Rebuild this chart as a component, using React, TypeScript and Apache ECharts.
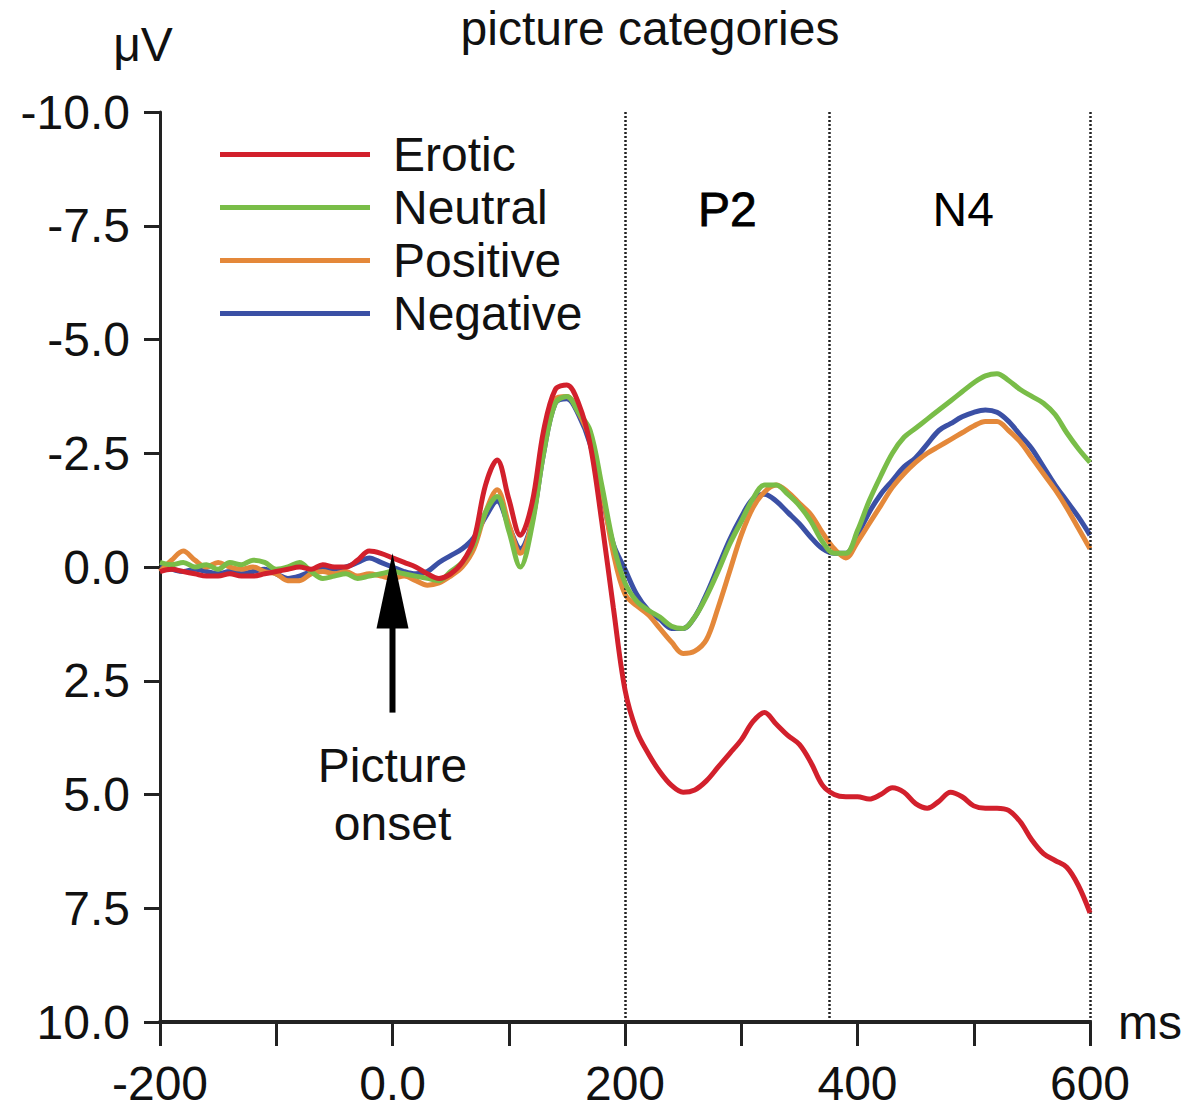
import React, { useEffect, useRef } from "react";
import * as echarts from "echarts";

const FONT = "'Liberation Sans', Arial, sans-serif";

const times = [
  -200, -190, -180, -170, -160, -150, -140, -130, -120, -110,
  -100, -90, -80, -70, -60, -50, -40, -30, -20, -10,
  0, 10, 20, 30, 40, 50, 60, 70, 80, 90,
  100, 110, 120, 130, 140, 150, 160, 170, 180, 190,
  200, 210, 220, 230, 240, 250, 260, 270, 280, 290,
  300, 310, 320, 330, 340, 350, 360, 370, 380, 390,
  400, 410, 420, 430, 440, 450, 460, 470, 480, 490,
  500, 510, 520, 530, 540, 550, 560, 570, 580, 590,
  600,
];

const erotic = [
  0.1, 0.05, 0.1, 0.15, 0.2, 0.2, 0.15, 0.2, 0.2, 0.15,
  0.1, 0.05, 0.0, 0.05, -0.05, 0.0, 0.0, -0.15, -0.35, -0.3,
  -0.2, -0.1, 0.0, 0.15, 0.25, 0.15, -0.1, -0.6, -1.8, -2.35,
  -1.5, -0.7, -1.4, -3.0, -3.9, -4.0, -3.6, -2.7, -1.0, 0.9,
  2.7, 3.6, 4.1, 4.5, 4.8, 4.95, 4.9, 4.7, 4.4, 4.1,
  3.8, 3.4, 3.2, 3.45, 3.7, 3.9, 4.3, 4.8, 5.0, 5.05,
  5.05, 5.1, 5.0, 4.85, 4.95, 5.2, 5.3, 5.15, 4.95, 5.05,
  5.25, 5.3, 5.3, 5.35, 5.6, 6.0, 6.3, 6.45, 6.6, 7.0,
  7.6,
];

const neutral = [
  -0.1, -0.05, -0.1, 0.0, -0.05, 0.05, -0.1, -0.05, -0.15, -0.1,
  0.05, 0.0, -0.1, 0.1, 0.25, 0.2, 0.15, 0.25, 0.2, 0.15,
  0.1, 0.15, 0.2, 0.25, 0.3, 0.1, -0.1, -0.5, -1.2, -1.55,
  -0.8, 0.0, -0.9, -2.5, -3.6, -3.75, -3.4, -3.0, -1.8, -0.5,
  0.35, 0.75, 0.95, 1.1, 1.3, 1.35, 1.1, 0.65, 0.1, -0.5,
  -1.0, -1.5, -1.8, -1.8, -1.6, -1.35, -1.0, -0.55, -0.3, -0.3,
  -0.8, -1.45, -2.0, -2.5, -2.85, -3.05, -3.25, -3.45, -3.65, -3.85,
  -4.05, -4.2, -4.25, -4.1, -3.9, -3.75, -3.6, -3.35, -2.95, -2.6,
  -2.3,
];

const positive = [
  0.1, -0.15, -0.35, -0.15, 0.0, -0.1, 0.0, 0.05, 0.0, 0.1,
  0.15, 0.3, 0.3, 0.15, 0.1, 0.15, 0.1, 0.2, 0.15, 0.2,
  0.25, 0.2, 0.3, 0.4, 0.35, 0.2, 0.0, -0.4, -1.2, -1.7,
  -0.95, -0.3, -1.0, -2.6, -3.7, -3.75, -3.4, -2.8, -1.7, -0.3,
  0.6, 0.85, 1.05, 1.35, 1.65, 1.9, 1.85, 1.6, 0.9, 0.1,
  -0.7, -1.3, -1.65, -1.8, -1.65, -1.4, -1.15, -0.75, -0.4, -0.2,
  -0.55, -0.95, -1.35, -1.75, -2.05, -2.3, -2.5, -2.65, -2.8, -2.95,
  -3.1, -3.2, -3.2, -3.0, -2.75, -2.4, -2.05, -1.7, -1.3, -0.85,
  -0.4,
];

const negative = [
  0.0, 0.05, 0.1, 0.05, 0.1, 0.15, 0.1, 0.15, 0.1, 0.05,
  0.15, 0.25, 0.2, 0.1, 0.05, 0.05, 0.0, -0.1, -0.2, -0.1,
  0.0, 0.1, 0.15, 0.1, -0.1, -0.25, -0.4, -0.65, -1.1, -1.45,
  -0.9, -0.4, -1.0, -2.5, -3.6, -3.7, -3.35, -2.7, -1.6, -0.5,
  0.05, 0.6, 0.95, 1.15, 1.35, 1.35, 1.1, 0.6, 0.0, -0.6,
  -1.1, -1.5, -1.6, -1.45, -1.2, -0.95, -0.65, -0.4, -0.3, -0.3,
  -0.7, -1.2, -1.6, -1.9, -2.2, -2.4, -2.7, -3.0, -3.15, -3.3,
  -3.4, -3.45, -3.4, -3.2, -2.9, -2.6, -2.2, -1.8, -1.45, -1.1,
  -0.7,
];

const seriesNames = ["Erotic", "Neutral", "Positive", "Negative"];
const seriesColors: Record<string, string> = {
  Erotic: "#d2202c",
  Neutral: "#79bd48",
  Positive: "#e4883a",
  Negative: "#3b50a5",
};
const seriesValues: Record<string, number[]> = {
  Erotic: erotic,
  Neutral: neutral,
  Positive: positive,
  Negative: negative,
};
const drawOrder = ["Negative", "Positive", "Neutral", "Erotic"];

const windowBounds = [200, 376, 600];
const xLabelValues = [-200, 0, 200, 400, 600];
const windowLabels = [
  { text: "P2", at: [288, -7.85] },
  { text: "N4", at: [491, -7.85] },
];

export default function App() {
  const ref = useRef<HTMLDivElement>(null);

  useEffect(() => {
    document.body.style.margin = "0";
    if (!ref.current) return;
    const chart = echarts.init(ref.current, null, { renderer: "svg" });

    const series: any[] = drawOrder.map((name, idx) => ({
      name,
      type: "line",
      data: times.map((t, i) => [t, seriesValues[name][i]]),
      showSymbol: false,
      smooth: 0.35,
      color: seriesColors[name],
      lineStyle: { width: 5, color: seriesColors[name] },
      z: 3 + idx,
      markLine:
        idx === 0
          ? {
              silent: true,
              symbol: "none",
              label: { show: false },
              lineStyle: { type: [2, 2], color: "#222", width: 2.5 },
              data: windowBounds.map((v) => ({ xAxis: v })),
            }
          : undefined,
    }));

    chart.setOption({
      animation: false,
      backgroundColor: "#ffffff",
      textStyle: { fontFamily: FONT },
      grid: { left: 160, right: 104, top: 112, bottom: 87, containLabel: false },
      legend: {
        data: seriesNames,
        orient: "vertical",
        left: 220,
        top: 128,
        padding: 0,
        itemGap: 0,
        itemWidth: 150,
        itemHeight: 5,
        icon: "rect",
        selectedMode: false,
        textStyle: {
          fontSize: 48,
          color: "#111",
          fontFamily: FONT,
          lineHeight: 53,
          padding: [0, 0, 0, 18],
        },
      },
      xAxis: {
        type: "value",
        min: -200,
        max: 600,
        interval: 100,
        name: "ms",
        nameLocation: "end",
        nameGap: 28,
        nameTextStyle: {
          fontSize: 48,
          color: "#111",
          fontFamily: FONT,
          verticalAlign: "middle",
        },
        axisLine: { onZero: false, lineStyle: { color: "#222", width: 4 } },
        axisTick: { length: 24, lineStyle: { color: "#222", width: 3 } },
        axisLabel: {
          fontSize: 48,
          color: "#111",
          fontFamily: FONT,
          margin: 37,
          formatter: (v: number) =>
            xLabelValues.includes(v) ? (v === 0 ? "0.0" : String(v)) : "",
        },
        splitLine: { show: false },
      },
      yAxis: {
        type: "value",
        inverse: true,
        min: -10,
        max: 10,
        interval: 2.5,
        axisLine: { show: true, onZero: false, lineStyle: { color: "#222", width: 3 } },
        axisTick: { show: true, length: 16, lineStyle: { color: "#222", width: 3 } },
        axisLabel: {
          fontSize: 48,
          color: "#111",
          fontFamily: FONT,
          margin: 30,
          formatter: (v: number) => v.toFixed(1),
        },
        splitLine: { show: false },
      },
      series,
    });

    const px = (p: number[]) => chart.convertToPixel({ gridIndex: 0 }, p) as number[];
    const tip = px([0, -0.3]);
    const headBase = px([0, 1.35]);
    const shaftEnd = px([0, 3.2]);
    const onsetText = px([0, 5.0]);

    const graphics: any[] = [
      {
        type: "text",
        x: 143,
        y: 44,
        style: {
          text: "μV",
          fontSize: 48,
          fontFamily: FONT,
          fill: "#111",
          textAlign: "center",
          textVerticalAlign: "middle",
        },
      },
      {
        type: "text",
        x: 650,
        y: 28,
        style: {
          text: "picture categories",
          fontSize: 48,
          fontFamily: FONT,
          fill: "#111",
          textAlign: "center",
          textVerticalAlign: "middle",
        },
      },
      {
        type: "line",
        shape: { x1: tip[0], y1: headBase[1] - 4, x2: shaftEnd[0], y2: shaftEnd[1] },
        style: { stroke: "#000", lineWidth: 6 },
        z: 20,
      },
      {
        type: "polygon",
        shape: {
          points: [
            [tip[0], tip[1]],
            [tip[0] - 16, headBase[1]],
            [tip[0] + 16, headBase[1]],
          ],
        },
        style: { fill: "#000" },
        z: 20,
      },
      {
        type: "text",
        x: onsetText[0],
        y: onsetText[1],
        style: {
          text: "Picture\nonset",
          fontSize: 48,
          lineHeight: 58,
          fontFamily: FONT,
          fill: "#111",
          textAlign: "center",
          textVerticalAlign: "middle",
        },
        z: 20,
      },
      ...windowLabels.map((w) => {
        const p = px(w.at);
        return {
          type: "text",
          x: p[0],
          y: p[1],
          style: {
            text: w.text,
            fontSize: 48,
            fontFamily: FONT,
            fill: "#000",
            stroke: "#000",
            lineWidth: w.text === "P2" ? 0.8 : 0,
            textAlign: "center",
            textVerticalAlign: "middle",
          },
          z: 20,
        };
      }),
    ];

    chart.setOption({ graphic: graphics });

    return () => {
      chart.dispose();
    };
  }, []);

  return <div ref={ref} style={{ width: 1194, height: 1109 }} />;
}
